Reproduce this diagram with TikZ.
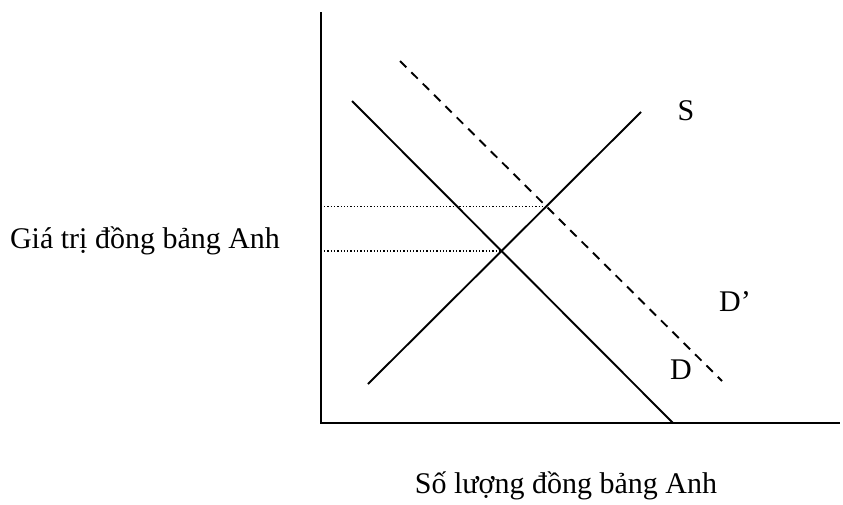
\documentclass[tikz,border=0pt]{standalone}
\usepackage{fontspec}
\setmainfont{Liberation Serif}
\usetikzlibrary{positioning, calc}

\begin{document}
\begin{tikzpicture}[
    x=1pt, y=-1pt,
    font=\fontsize{30}{36}\selectfont,
    axis/.style={line width=2.2pt, draw=black},
    curve/.style={line width=1.9pt, draw=black},
    shifted/.style={curve, dash pattern=on 9pt off 7pt},
    guide/.style={line width=1.3pt, dash pattern=on 1.3pt off 2pt, draw=black},
    lbl/.style={inner sep=0pt, anchor=base},
]
\useasboundingbox (0,0) rectangle (843,504);

% axes
\coordinate (origin) at (321,423);
\coordinate (ytop)   at (321,12);
\coordinate (xend)   at (840,423);
\draw[axis] (ytop) -- (origin) -- (xend);

% demand, shifted demand, supply
\coordinate (dtop)  at (352,101);
\coordinate (dbot)  at (673,423);
\coordinate (dptop) at (400,61);
\coordinate (dpbot) at (722,381);
\coordinate (sbot)  at (368,384);
\coordinate (stop)  at (641,112);
\draw[curve]   (dtop)  -- (dbot);
\draw[shifted] (dptop) -- (dpbot);
\draw[curve]   (sbot)  -- (stop);

% equilibria and their price levels
\coordinate (eq)  at (intersection of dtop--dbot and sbot--stop);
\coordinate (eqp) at (intersection of dptop--dpbot and sbot--stop);
\draw[guide] (eq -| 324,0)  -- (eq);
\draw[guide] (eqp -| 324,0) -- (eqp);

% labels
\node[lbl] (slbl)  at (686,120) {S};
\node[lbl] (dplbl) at (735,311) {D’};
\node[lbl] (dlbl)  at (681,379) {D};
\node[lbl] (ylbl)  at (145,248) {Giá trị đồng bảng Anh};
\node[lbl] (xlbl)  at (566,493) {Số lượng đồng bảng Anh};

\end{tikzpicture}
\end{document}
